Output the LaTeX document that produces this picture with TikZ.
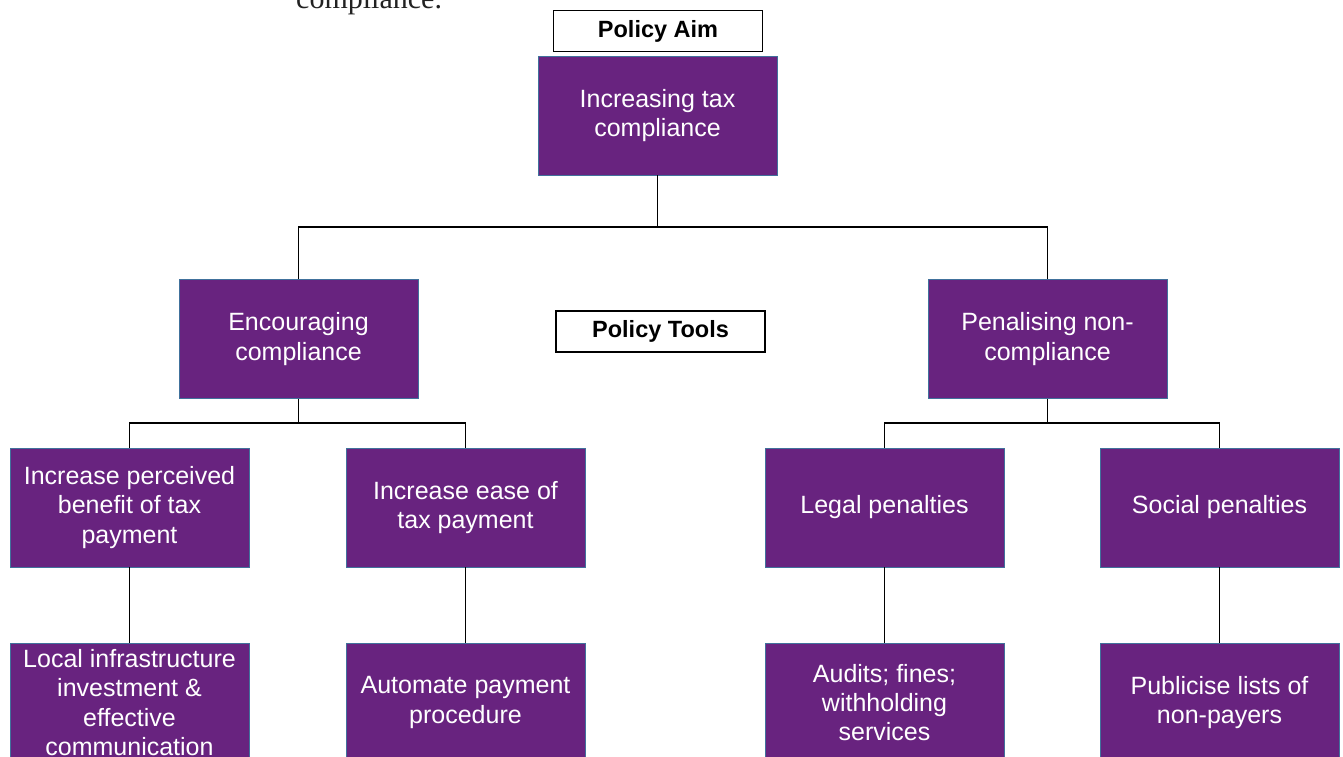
\documentclass[tikz,border=0pt]{standalone}
\usepackage{fontspec}
\setmainfont{Liberation Sans}
\newfontfamily\serifcap{Liberation Serif}
\definecolor{purp}{RGB}{104,35,127}
\definecolor{bord}{RGB}{65,113,156}
\definecolor{captxt}{RGB}{34,34,34}
\begin{document}
\begin{tikzpicture}[x=1pt,y=-1pt,
  pbox/.style={rectangle, fill=purp, draw=bord, line width=0.8pt,
    minimum width=239pt, minimum height=119pt, inner sep=0pt,
    text=white, align=center, font=\fontsize{25}{29.3}\selectfont},
  lbox/.style={rectangle, fill=white, draw=black, line width=1.3pt,
    minimum width=209pt, minimum height=41pt, inner sep=0pt,
    font=\bfseries\fontsize{23.5}{27}\selectfont},
  conn/.style={draw=black, line width=1.4pt}]
\useasboundingbox (0,0) rectangle (1343,757);
\node[anchor=base west, inner sep=0pt, text=captxt, font=\serifcap\fontsize{30}{34}\selectfont] (cap) at (296,9) {compliance.};

\node[lbox] (aim) at (658,31) {Policy Aim};
\node[pbox] (root) at (657.5,115.5) {Increasing tax\\compliance};
\node[pbox] (enc) at (298.5,339) {Encouraging\\compliance};
\node[pbox] (pen) at (1047.5,339) {Penalising non-\\compliance};
\node[lbox] (tools) at (660.5,331.5) {Policy Tools};

\node[pbox] (ipb) at (129.5,507.5) {Increase perceived\\benefit of tax\\payment};
\node[pbox] (iep) at (465.5,507.5) {Increase ease of\\tax payment};
\node[pbox] (leg) at (884.5,507.5) {Legal penalties};
\node[pbox] (soc) at (1219.5,507.5) {Social penalties};

\node[pbox] (loc) at (129.5,702.5) {Local infrastructure\\investment \&\\effective\\communication};
\node[pbox] (aut) at (465.5,702.5) {Automate payment\\procedure};
\node[pbox] (aud) at (884.5,702.5) {Audits; fines;\\withholding\\services};
\node[pbox] (pub) at (1219.5,702.5) {Publicise lists of\\non-payers};

\coordinate (j1) at (root.south |- 0,227);
\coordinate (j2) at (enc.south |- 0,423);
\coordinate (j3) at (pen.south |- 0,423);

\draw[conn] (root.south) -- (j1);
\draw[conn] (enc.north) |- (j1);
\draw[conn] (pen.north) |- (j1);

\draw[conn] (enc.south) -- (j2);
\draw[conn] (ipb.north) |- (j2);
\draw[conn] (iep.north) |- (j2);

\draw[conn] (pen.south) -- (j3);
\draw[conn] (leg.north) |- (j3);
\draw[conn] (soc.north) |- (j3);

\draw[conn] (ipb.south) -- (loc.north);
\draw[conn] (iep.south) -- (aut.north);
\draw[conn] (leg.south) -- (aud.north);
\draw[conn] (soc.south) -- (pub.north);
\end{tikzpicture}
\end{document}
